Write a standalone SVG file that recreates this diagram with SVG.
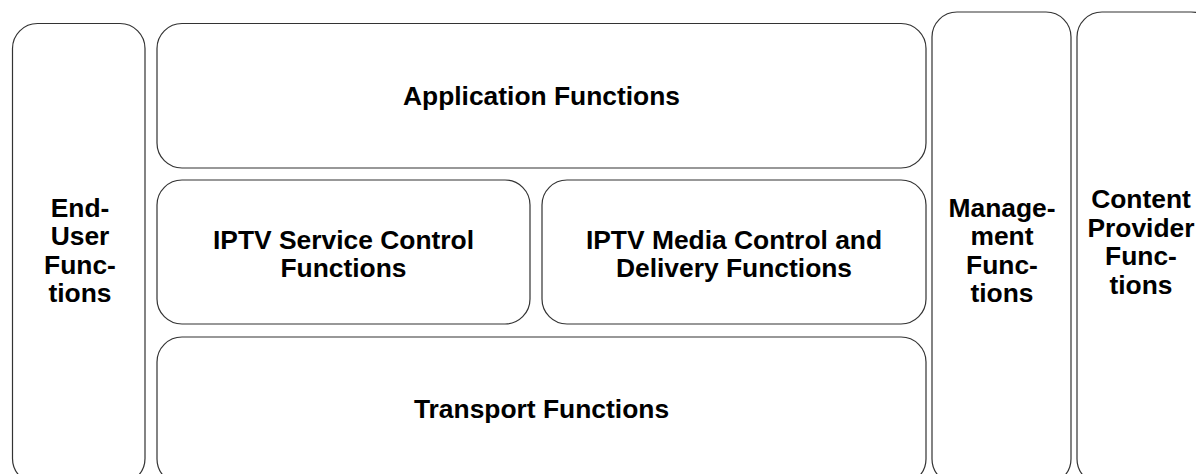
<svg xmlns="http://www.w3.org/2000/svg" width="1196" height="474" viewBox="0 0 1196 474">
<style>
.box{fill:#fff;stroke:#333;stroke-width:1.2}
.t{font-family:"Liberation Sans",Arial,sans-serif;font-weight:bold;font-size:26.4px;fill:#000;text-anchor:middle}
</style>
<rect width="1196" height="474" fill="#fff"/>
<g id="end-user">
<rect class="box" x="12.5" y="23.5" width="132.5" height="460" rx="25" ry="25"/>
<text class="t" x="80" y="216.5">End-</text>
<text class="t" x="80" y="245">User</text>
<text class="t" x="80" y="273.5">Func-</text>
<text class="t" x="80" y="302">tions</text>
</g>
<g id="application">
<rect class="box" x="157" y="23.5" width="769" height="144.5" rx="25" ry="25"/>
<text class="t" x="541.5" y="104.5">Application Functions</text>
</g>
<g id="service-control">
<rect class="box" x="157" y="180" width="373" height="144" rx="25" ry="25"/>
<text class="t" x="343.5" y="248.5">IPTV Service Control</text>
<text class="t" x="343.5" y="277">Functions</text>
</g>
<g id="media-control">
<rect class="box" x="542" y="180" width="384" height="144" rx="25" ry="25"/>
<text class="t" x="734" y="248.5">IPTV Media Control and</text>
<text class="t" x="734" y="277">Delivery Functions</text>
</g>
<g id="transport">
<rect class="box" x="157" y="337" width="769" height="147" rx="25" ry="25"/>
<text class="t" x="541.5" y="417.5">Transport Functions</text>
</g>
<g id="management">
<rect class="box" x="932" y="12" width="139" height="472" rx="25" ry="25"/>
<text class="t" x="1002" y="216.5">Manage-</text>
<text class="t" x="1002" y="245">ment</text>
<text class="t" x="1002" y="273.5">Func-</text>
<text class="t" x="1002" y="302">tions</text>
</g>
<g id="content-provider">
<rect class="box" x="1077" y="12" width="139" height="472" rx="25" ry="25"/>
<text class="t" x="1141" y="208">Content</text>
<text class="t" x="1141" y="236.5">Provider</text>
<text class="t" x="1141" y="265">Func-</text>
<text class="t" x="1141" y="293.5">tions</text>
</g>
<g id="connectors"></g>
</svg>
